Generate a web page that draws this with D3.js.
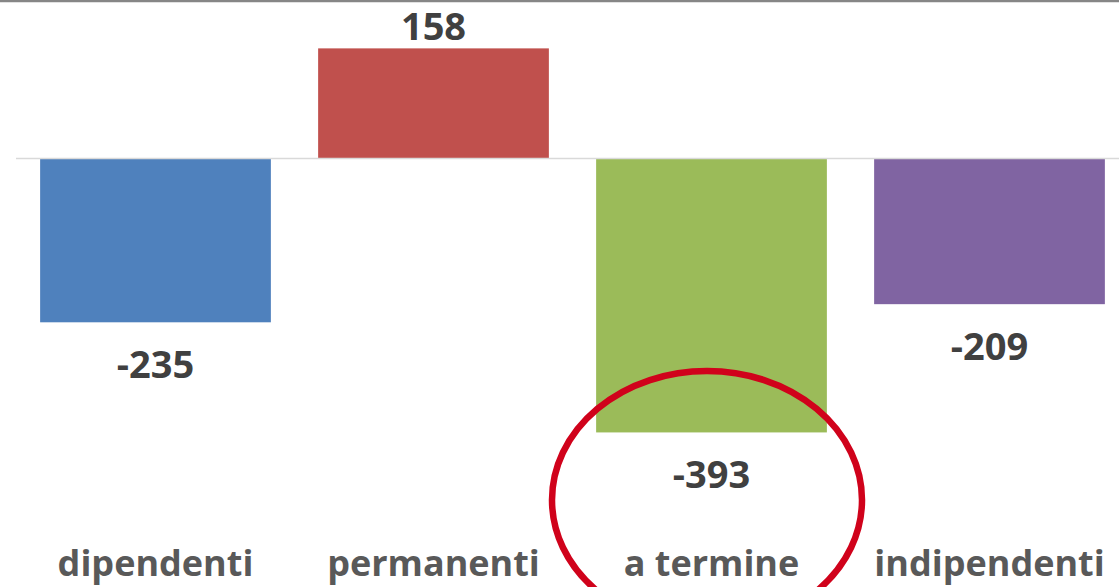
<!DOCTYPE html>
<html>
<head>
<meta charset="utf-8">
<script src="https://cdn.jsdelivr.net/npm/d3@7"></script>
<style>
  html, body { margin: 0; padding: 0; background: #fff; overflow: hidden; }
  svg { display: block; }
  .value { font-family: "Open Sans", sans-serif; font-weight: 700; fill: #404040; }
  .cat { font-family: "Open Sans", sans-serif; font-weight: 700; fill: #595959; }
</style>
</head>
<body>
<div id="chart"></div>
<script>
var categories = ["dipendenti", "permanenti", "a termine", "indipendenti"];
var values = [-235, 158, -393, -209];
var colors = ["#4f81bd", "#c0504d", "#9bbb59", "#8064a2"];
var highlighted = "a termine";  // circled in red

var width = 1119, height = 587;

var svg = d3.select("#chart").append("svg")
    .attr("width", width)
    .attr("height", height);

var x = d3.scaleBand()
    .domain(categories)
    .range([16.5, 1128.5])
    .paddingInner(0.17)
    .paddingOuter(0.085);

var y = d3.scaleLinear()
    .domain([-400, 200])
    .range([437.3, 19.1]);

// top frame line
svg.append("line")
    .attr("x1", 0).attr("x2", width)
    .attr("y1", 1).attr("y2", 1)
    .attr("stroke", "#868686")
    .attr("stroke-width", 2.5);

// bars
svg.selectAll(".bar")
    .data(values)
  .enter().append("rect")
    .attr("class", "bar")
    .attr("x", function(d, i) { return x(categories[i]); })
    .attr("width", x.bandwidth())
    .attr("y", function(d) { return y(Math.max(0, d)); })
    .attr("height", function(d) { return Math.abs(y(d) - y(0)); })
    .attr("fill", function(d, i) { return colors[i]; });

// zero line
svg.append("line")
    .attr("x1", 16).attr("x2", width)
    .attr("y1", y(0)).attr("y2", y(0))
    .attr("stroke", "#d9d9d9")
    .attr("stroke-width", 1.5);

// value labels
svg.selectAll(".value")
    .data(values)
  .enter().append("text")
    .attr("class", "value")
    .attr("text-anchor", "middle")
    .attr("font-size", 38)
    .attr("x", function(d, i) { return x(categories[i]) + x.bandwidth() / 2; })
    .attr("y", function(d) { return d >= 0 ? y(d) - 8 : y(d) + 56; })
    .text(function(d) { return d; });

// category labels
svg.selectAll(".cat")
    .data(categories)
  .enter().append("text")
    .attr("class", "cat")
    .attr("text-anchor", "middle")
    .attr("font-size", 36)
    .attr("x", function(d) { return x(d) + x.bandwidth() / 2; })
    .attr("y", 576)
    .text(function(d) { return d; });

// red ellipse around the highlighted category
svg.append("ellipse")
    .attr("cx", x(highlighted) + x.bandwidth() / 2 - 4.5)
    .attr("cy", 500)
    .attr("rx", 155)
    .attr("ry", 129)
    .attr("fill", "none")
    .attr("stroke", "#d0021b")
    .attr("stroke-width", 6.5);
</script>
</body>
</html>
